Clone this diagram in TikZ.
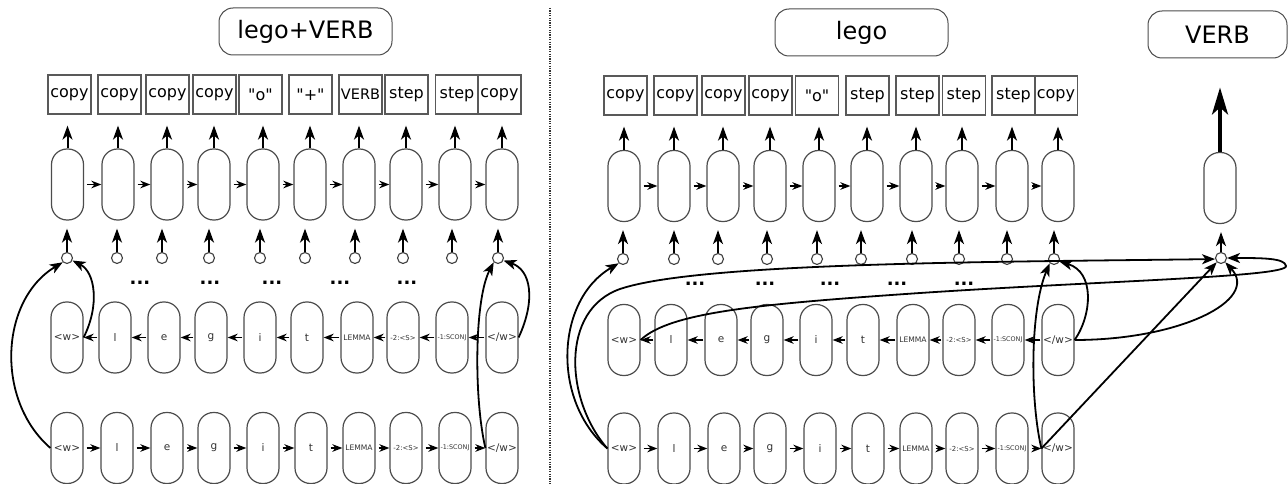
\documentclass[tikz,border=0pt]{standalone}
\usepackage{fontspec}
\setmainfont{DejaVu Sans}
\usetikzlibrary{arrows.meta}
\tikzset{
 cell/.style={draw=black!70, line width=1.2pt, rounded corners=15.5pt, minimum width=32pt, minimum height=71pt, inner sep=0pt},
 enc/.style={cell, font=\fontsize{10.5}{11}\selectfont, text=black!80},
 outbox/.style={draw=black!65, line width=1.2pt, minimum width=43pt, minimum height=39pt, inner sep=0pt, font=\fontsize{16}{18}\selectfont},
 titlebox/.style={draw=black!70, line width=1pt, rounded corners=14pt, minimum width=173pt, minimum height=47pt, inner sep=0pt, font=\fontsize{24}{28}\selectfont},
 circ/.style={circle, draw=black!75, line width=1.1pt, minimum size=11pt, inner sep=0pt, fill=white},
 uparr/.style={line width=2pt, -{Stealth[length=14pt,width=10pt,inset=4pt]}},
 harr/.style={line width=1.6pt, -{Stealth[length=10pt,width=7.5pt,inset=3pt]}},
 conn/.style={line width=1.8pt, -{Stealth[length=13pt,width=10pt,inset=3.5pt]}},
 dotsnode/.style={font=\bfseries\fontsize{18}{20}\selectfont, inner sep=0pt},
}
\newcommand{\qq}[1]{\textquotedbl#1\textquotedbl}
\begin{document}
\begin{tikzpicture}[x=1pt,y=-1pt]
\useasboundingbox (0,0) rectangle (1288,484);

% divider
\coordinate (dtop) at (550,8);
\coordinate (dbot) at (550,484);
\draw[line width=1.6pt, black!80, dash pattern=on 1.2pt off 1.2pt] (dtop) -- (dbot);

% titles
\node[titlebox] (Lt) at (305.5,31.5) {lego+VERB};
\node[titlebox] (Rt) at (861.5,32.5) {lego};
\node[titlebox, minimum width=139pt] (Vt) at (1217.5,34.5) {VERB};

% ---------------- LEFT PANEL ----------------
\foreach \i/\x/\t in {1/69.5/copy,2/119.5/copy,3/167.5/copy,4/214.5/copy,5/260.5/{\qq{o}},6/310.5/{\qq{+}},7/360.5/{\fontsize{14.5}{16}\selectfont VERB},8/406.5/step,9/457/step,10/499.5/copy}
  \node[outbox] (Lo\i) at (\x,94.5) {\t};
\foreach \i/\x in {1/67.5,2/118,3/167,4/214,5/263,6/310,7/359,8/406,9/455,10/502}
  \node[cell] (Lh\i) at (\x,184.5) {};
\foreach \i/\x in {1/67,2/117,3/162,4/209,5/260,6/305,7/355,8/403,9/452,10/498}
  \node[circ] (Lc\i) at (\x,258) {};
\foreach \i/\x/\t in {1/67/{<w>},2/115/l,3/164/e,4/211/g,5/260/i,6/307/t,7/357/{\fontsize{7.6}{8}\selectfont LEMMA},8/403/{\fontsize{6.9}{7}\selectfont -2:<S>},9/452/{\fontsize{6.4}{7}\selectfont -1:SCONJ},10/502/{</w>}}
  \node[enc] (Le\i) at (\x,337.5) {\t};
\foreach \i/\x/\t in {1/67/{<w>},2/117/l,3/167/e,4/214/g,5/263/i,6/311/t,7/359/{\fontsize{7.6}{8}\selectfont LEMMA},8/406/{\fontsize{6.9}{7}\selectfont -2:<S>},9/455/{\fontsize{6.4}{7}\selectfont -1:SCONJ},10/502/{</w>}}
  \node[enc] (Lf\i) at (\x,448) {\t};
\foreach \i/\x in {1/140,2/210,3/272,4/340,5/407}
  \node[dotsnode] (Ld\i) at (\x,283) {...};

\foreach \i in {1,...,10}{
  \draw[uparr, shorten >=11pt] (Lh\i.north) -- (Lh\i.north |- Lo\i.south);
  \draw[uparr, shorten >=8pt] (Lc\i.north) -- (Lc\i.north |- Lh\i.south);
}
\foreach \i in {1,...,9}{
  \pgfmathtruncatemacro\j{\i+1}
  \draw[harr, shorten <=3pt] (Lh\i.east) -- (Lh\j.west);
  \draw[harr, shorten <=1pt] (Le\j.west) -- (Le\i.east);
  \draw[harr, shorten <=3pt] (Lf\i.east) -- (Lf\j.west);
}
\draw[conn] (Lf1.west) .. controls (-5,400) and (0,300) .. (Lc1.south west);
\draw[conn] (Le1.east) .. controls (100,305) and (95,272) .. (Lc1.-25);
\draw[conn] (Lf10.west) .. controls (474,400) and (474,300) .. (Lc10.south west);
\draw[conn] (Le10.east) .. controls (536,300) and (531,270) .. (Lc10.-25);

% ---------------- RIGHT PANEL ----------------
\foreach \i/\x/\t in {1/625.5/copy,2/675.5/copy,3/723.5/copy,4/770.5/copy,5/817/{\qq{o}},6/867.5/step,7/917.5/step,8/964/step,9/1013.5/step,10/1056/copy}
  \node[outbox] (Ro\i) at (\x,95.5) {\t};
\foreach \i/\x in {1/624,2/674,3/723,4/770,5/819,6/867,7/916,8/962,9/1012,10/1058}
  \node[cell] (Rh\i) at (\x,186) {};
\node[cell] (Rvh) at (1220,188) {};
\foreach \i/\x in {1/623,2/674,3/718,4/767,5/817,6/861,7/912,8/959,9/1007,10/1054}
  \node[circ] (Rc\i) at (\x,259) {};
\node[circ] (Rv) at (1221,258) {};
\foreach \i/\x/\t in {1/624/{<w>},2/671/l,3/721/e,4/767/g,5/816/i,6/863/t,7/913/{\fontsize{7.6}{8}\selectfont LEMMA},8/959/{\fontsize{6.9}{7}\selectfont -2:<S>},9/1008/{\fontsize{6.4}{7}\selectfont -1:SCONJ},10/1058/{</w>}}
  \node[enc] (Re\i) at (\x,340) {\t};
\foreach \i/\x/\t in {1/624/{<w>},2/674/l,3/724/e,4/770/g,5/820/i,6/868/t,7/916/{\fontsize{7.6}{8}\selectfont LEMMA},8/962/{\fontsize{6.9}{7}\selectfont -2:<S>},9/1012/{\fontsize{6.4}{7}\selectfont -1:SCONJ},10/1058/{</w>}}
  \node[enc] (Rf\i) at (\x,448.5) {\t};
\foreach \i/\x in {1/695,2/765,3/830,4/897,5/964}
  \node[dotsnode] (Rd\i) at (\x,284) {...};

\foreach \i in {1,...,10}{
  \draw[uparr, shorten >=11pt] (Rh\i.north) -- (Rh\i.north |- Ro\i.south);
  \draw[uparr, shorten >=8pt] (Rc\i.north) -- (Rc\i.north |- Rh\i.south);
}
\foreach \i in {1,...,9}{
  \pgfmathtruncatemacro\j{\i+1}
  \draw[harr, shorten <=3pt] (Rh\i.east) -- (Rh\j.west);
  \draw[harr, shorten <=1pt] (Re\j.west) -- (Re\i.east);
  \draw[harr, shorten <=3pt] (Rf\i.east) -- (Rf\j.west);
}
\draw[uparr, shorten >=8pt] (Rv.north) -- (Rv.north |- Rvh.south);
\draw[line width=3.8pt, -{Stealth[length=27pt,width=16pt,inset=7pt]}, shorten >=29pt] (Rvh.north) -- (Rvh.north |- Vt.south);

\draw[conn] (Rf1.west) .. controls (551,400) and (556,300) .. (Rc1.south west);
\draw[conn] (Rf1.west) .. controls (565,400) and (560,310) .. (620,289) .. controls (700,262) and (1000,262) .. (Rv.190);
\draw[conn] (Re1.east) .. controls (670,312) and (760,304) .. (920,293) .. controls (1100,281) and (1288,277) .. (1286,266) .. controls (1285,258) and (1262,258) .. (Rv.east);
\draw[conn] (Rf10.west) .. controls (1030,400) and (1030,310) .. (Rc10.south west);
\draw[conn] (Rf10.west) -- (Rv.south west);
\draw[conn] (Re10.east) .. controls (1092,315) and (1095,272) .. (Rc10.-25);
\draw[conn] (Re10.east) .. controls (1180,340) and (1260,300) .. (Rv.-45);
\end{tikzpicture}
\end{document}
